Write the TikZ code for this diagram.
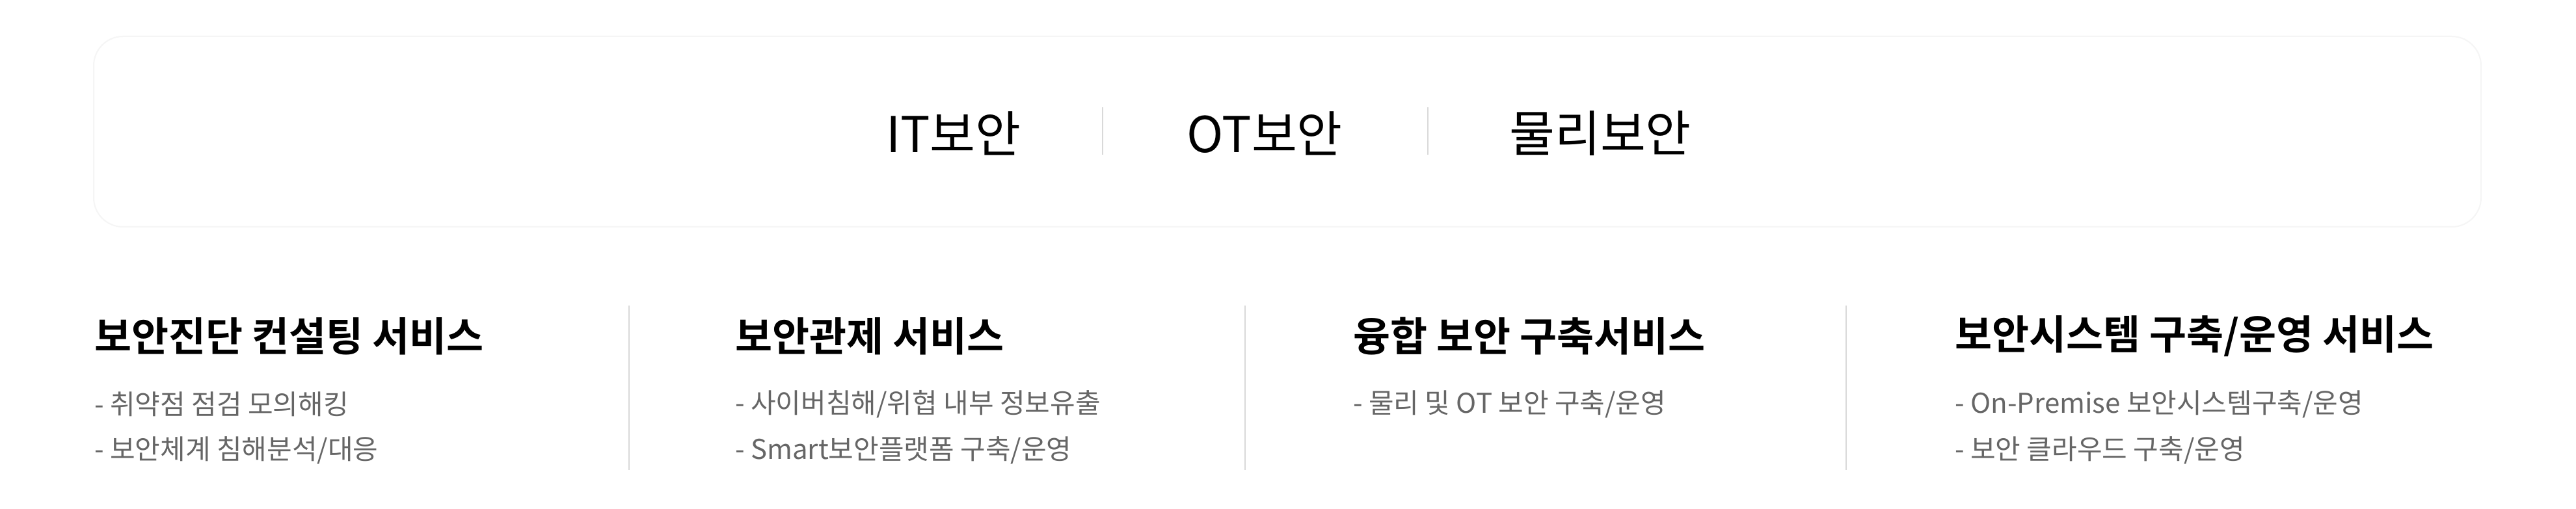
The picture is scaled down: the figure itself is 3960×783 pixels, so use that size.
\documentclass[tikz,border=0pt]{standalone}
\usepackage{fontspec}
\setmainfont{Noto Sans CJK KR}
\newfontfamily\krb{Noto Sans CJK KR Bold}
\begin{document}
\begin{tikzpicture}[x=1pt,y=-1pt,
  top/.style={font=\fontsize{76}{80}\selectfont, text=black, inner sep=0},
  head/.style={font=\krb\fontsize{62}{66}\selectfont, text=black, anchor=west, inner sep=0},
  item/.style={font=\fontsize{42}{46}\selectfont, text=black!60, anchor=west, inner sep=0},
  sep/.style={draw=black!15, line width=2pt}]
\useasboundingbox[fill=white] (0,0) rectangle (3960,783);
\draw[draw=black!4, line width=2pt, rounded corners=45] (144,56) rectangle (3814,349);
\node[top] (it) at (1466,205) {IT보안};
\node[top] (ot) at (1944,205) {OT보안};
\node[top] (ph) at (2460,205) {물리보안};
\coordinate (s1a) at (1695,165); \coordinate (s1b) at (1695,238);
\coordinate (s2a) at (2195,165); \coordinate (s2b) at (2195,238);
\draw[sep] (s1a) -- (s1b); \draw[sep] (s2a) -- (s2b);
\node[head] (h1) at (145,517) {보안진단 컨설팅 서비스};
\node[head] (h2) at (1130,517) {보안관제 서비스};
\node[head] (h3) at (2080,517) {융합 보안 구축서비스};
\node[head] (h4) at (3005,517) {보안시스템 구축/운영 서비스};
\node[item] (a1) at (145,622) {- 취약점 점검 모의해킹};
\node[item] (a2) at (145,693) {- 보안체계 침해분석/대응};
\node[item] (b1) at (1130,622) {- 사이버침해/위협 내부 정보유출};
\node[item] (b2) at (1130,693) {- Smart보안플랫폼 구축/운영};
\node[item] (c1) at (2080,622) {- 물리 및 OT 보안 구축/운영};
\node[item] (d1) at (3005,622) {- On-Premise 보안시스템구축/운영};
\node[item] (d2) at (3005,693) {- 보안 클라우드 구축/운영};
\coordinate (v1a) at (967,470); \coordinate (v1b) at (967,723);
\coordinate (v2a) at (1914,470); \coordinate (v2b) at (1914,723);
\coordinate (v3a) at (2838,470); \coordinate (v3b) at (2838,723);
\draw[sep] (v1a) -- (v1b); \draw[sep] (v2a) -- (v2b); \draw[sep] (v3a) -- (v3b);
\end{tikzpicture}
\end{document}
